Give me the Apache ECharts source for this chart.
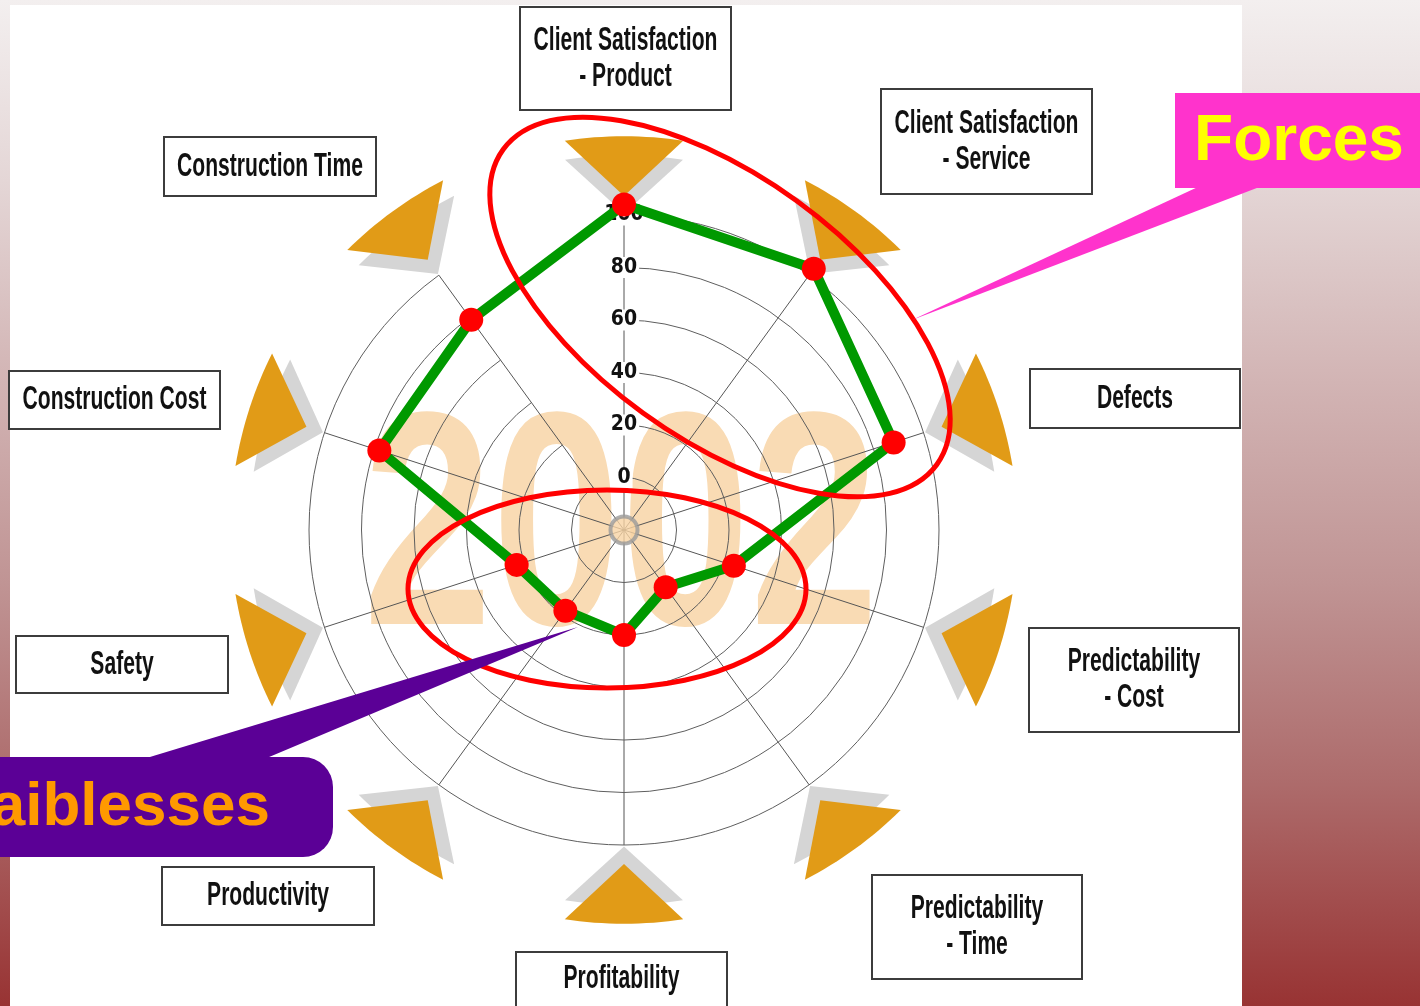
<!DOCTYPE html>
<html>
<head>
<meta charset="utf-8">
<script src="https://cdn.jsdelivr.net/npm/echarts@6/dist/echarts.min.js"></script>
<style>
html,body{margin:0;padding:0;}
body{width:1420px;height:1006px;overflow:hidden;position:relative;
  background:linear-gradient(to bottom,#f3efef 0%,#e4d6d6 18%,#d2b4b4 38%,#c09494 58%,#ad6b6b 78%,#983333 100%);}
#panel{position:absolute;left:10px;top:5px;width:1232px;height:1001px;background:#ffffff;}
#chart{position:absolute;left:0;top:0;width:1420px;height:1006px;}
</style>
</head>
<body>
<div id="panel"></div>
<div id="chart"></div>
<script>
// ---------------- data ----------------
const categories = [
  'Client Satisfaction - Product',
  'Client Satisfaction - Service',
  'Defects',
  'Predictability - Cost',
  'Predictability - Time',
  'Profitability',
  'Productivity',
  'Safety',
  'Construction Cost',
  'Construction Time'
];
const scores2002 = [104, 103, 88, 24, 7, 20, 18, 23, 78, 79];
const radiusTickLabels = ['0', '20', '40', '60', '80', '100'];
const RADIUS_MIN = -20;
const RADIUS_MAX = 100;
const RADIUS_STEP = 20;
const watermarkText = '2002';
const strengthsLabel = 'Forces';
const weaknessesLabel = 'Faiblesses';

// ---------------- layout (positions of the label boxes) ----------------
const boxLayout = [
  {x:520, y:7,   w:211, h:103},
  {x:881, y:89,  w:211, h:105},
  {x:1030,y:369, w:210, h:59},
  {x:1029,y:628, w:210, h:104},
  {x:872, y:875, w:210, h:104},
  {x:516, y:952, w:211, h:62},
  {x:162, y:867, w:212, h:58},
  {x:16,  y:636, w:212, h:57},
  {x:9,   y:371, w:211, h:58},
  {x:164, y:137, w:212, h:59}
];
const CENTER = [624, 530];
const OUTER_RADIUS = 315;

const chart = echarts.init(document.getElementById('chart'), null, {renderer:'canvas'});

function wedgeItem(params, api) {
  const i = params.dataIndex;
  const c = api.coord([RADIUS_MIN, i]);
  const o = api.coord([RADIUS_MAX, i]);
  const dx = o[0] - c[0], dy = o[1] - c[1];
  const R = Math.sqrt(dx * dx + dy * dy);
  const phi = Math.atan2(dy, dx);
  function shape(rApex, rArc, half) {
    const pts = [[c[0] + rApex * Math.cos(phi), c[1] + rApex * Math.sin(phi)]];
    const n = 16;
    for (let k = 0; k <= n; k++) {
      const a = phi - half + 2 * half * k / n;
      pts.push([c[0] + rArc * Math.cos(a), c[1] + rArc * Math.sin(a)]);
    }
    return pts;
  }
  return {
    type: 'group',
    children: [
      {type:'polygon', shape:{points: shape(R * 1.005, R * 1.19, 0.158)}, style:{fill:'#d5d5d5'}},
      {type:'polygon', shape:{points: shape(R * 1.06, R * 1.25, 0.151)}, style:{fill:'#e19b17'}}
    ]
  };
}

// radar goes counter-clockwise, the reference goes clockwise: reverse after the first axis
const radarOrder = [0].concat(categories.map((c, i) => i).slice(1).reverse());

const boxGraphics = [];
categories.forEach((name, i) => {
  const b = boxLayout[i];
  const txt = name.replace(' - ', '\n- ');
  boxGraphics.push({
    type:'rect', z:50,
    shape:{x:b.x, y:b.y, width:b.w, height:b.h},
    style:{fill:'#ffffff', stroke:'#3c3c3c', lineWidth:2}
  });
  boxGraphics.push({
    type:'text', z:51,
    x: b.x + b.w / 2, y: b.y + b.h / 2 - (i === 5 ? 4 : 0),
    scaleX: 0.62,
    style:{text: txt, font:'bold 34px "Liberation Sans"', fill:'#111111',
      align:'center', verticalAlign:'middle', lineHeight:36}
  });
});

const option = {
  animation: false,
  backgroundColor: 'transparent',
  polar: {center: CENTER, radius: OUTER_RADIUS},
  angleAxis: {
    type:'category', data: categories, startAngle:90, clockwise:true, boundaryGap:false,
    axisLine:{show:false}, axisTick:{show:false}, axisLabel:{show:false, interval:0},
    splitLine:{show:true, interval:0, lineStyle:{color:'#555555', width:1}},
    z:0
  },
  radiusAxis: {
    type:'value', min:RADIUS_MIN, max:RADIUS_MAX, interval:RADIUS_STEP,
    axisLine:{show:false}, axisTick:{show:false},
    splitLine:{show:true, lineStyle:{color:'#5e5e5e', width:1}},
    axisLabel:{
      show:true, showMinLabel:false, margin:0, align:'center', verticalAlign:'middle',
      formatter: function (v) { const k = radiusTickLabels.indexOf(String(v)); return k >= 0 ? radiusTickLabels[k] : ''; },
      color:'#111111', fontFamily:'DejaVu Sans Condensed', fontWeight:'bold', fontSize:21,
      backgroundColor:'#ffffff', padding:[0, 2]
    },
    z:1
  },
  radar: {
    center: CENTER, radius: OUTER_RADIUS, startAngle:90, shape:'circle', splitNumber:6,
    indicator: radarOrder.map(i => ({name: categories[i], min: RADIUS_MIN, max: RADIUS_MAX})),
    axisName:{show:false}, axisLine:{show:false}, axisTick:{show:false}, axisLabel:{show:false},
    splitLine:{show:false}, splitArea:{show:false}
  },
  graphic: [
    {type:'text', z:-10, x:621, y:540, scaleX:0.76,
      style:{text: watermarkText, font:'bold 305px "Liberation Sans"', fill:'#f9dbb4', align:'center', verticalAlign:'middle'}},
    ...boxGraphics,
    {type:'ellipse', z:100, x:720, y:307, rotation:-0.628,
      shape:{cx:0, cy:0, rx:268, ry:131}, style:{fill:null, stroke:'#ff0000', lineWidth:5}},
    {type:'ellipse', z:100, x:607, y:589,
      shape:{cx:0, cy:0, rx:199, ry:99}, style:{fill:null, stroke:'#ff0000', lineWidth:5}},
    {type:'polygon', z:101, shape:{points:[[1200,186],[1262,186],[912,320]]}, style:{fill:'#ff33cc'}},
    {type:'rect', z:102, shape:{x:1175, y:93, width:250, height:95}, style:{fill:'#ff33cc'}},
    {type:'text', z:103, x:1299, y:142,
      style:{text: strengthsLabel, font:'bold 64px "Liberation Sans"', fill:'#ffff00', align:'center', verticalAlign:'middle'}},
    {type:'polygon', z:101, shape:{points:[[140,760],[262,760],[578,627]]}, style:{fill:'#5b0096'}},
    {type:'rect', z:102, shape:{x:-40, y:757, width:373, height:100, r:[0, 30, 30, 0]}, style:{fill:'#5b0096'}},
    {type:'text', z:103, x:270, y:808,
      style:{text: weaknessesLabel, font:'bold 62px "Liberation Sans"', fill:'#ff9900', align:'right', verticalAlign:'middle'}}
  ],
  series: [
    {
      type:'custom', coordinateSystem:'polar', silent:true,
      data: categories.map(c => [RADIUS_MAX, c]),
      encode:{radius:0, angle:1},
      renderItem: wedgeItem, z:1
    },
    {
      type:'scatter', coordinateSystem:'polar',
      data:[[RADIUS_MIN, categories[0]]], encode:{radius:0, angle:1},
      symbol:'circle', symbolSize:27,
      itemStyle:{color:'#f7d3a4', borderColor:'#9a9a9a', borderWidth:4}, z:2
    },
    {
      type:'radar', z:5,
      data:[{name:'2002', value: radarOrder.map(i => scores2002[i])}],
      symbol:'circle', symbolSize:24, showSymbol:true,
      lineStyle:{color:'#009900', width:10},
      itemStyle:{color:'#ff0000'},
      areaStyle:null
    }
  ]
};
chart.setOption(option);
</script>
</body>
</html>
